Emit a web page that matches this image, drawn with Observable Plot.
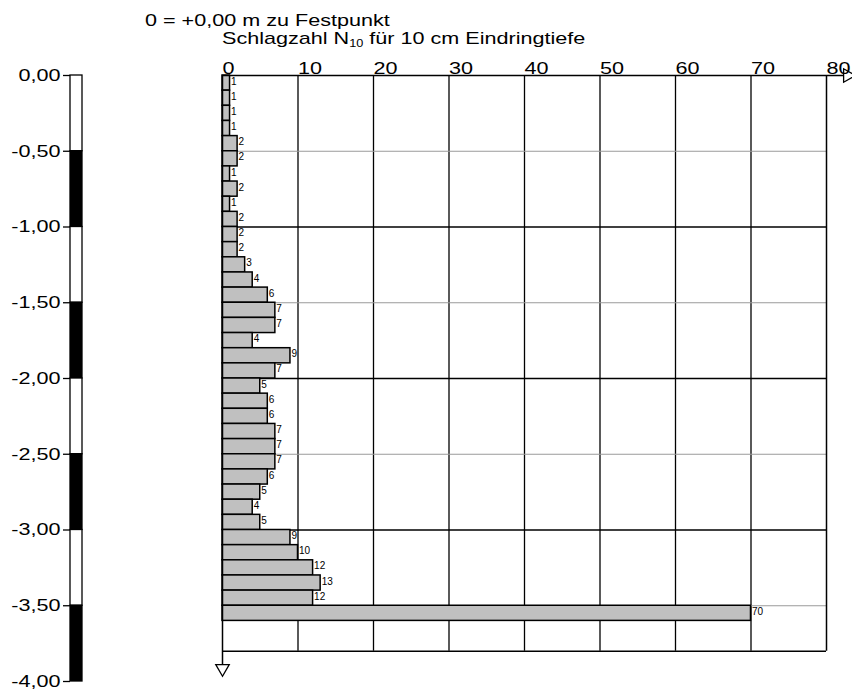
<!DOCTYPE html>
<html>
<head>
<meta charset="utf-8">
<script src="https://cdn.jsdelivr.net/npm/d3@7"></script>
<script src="https://cdn.jsdelivr.net/npm/@observablehq/plot@0.6"></script>
<style>
  html, body { margin: 0; padding: 0; background: #fff; }
  #wrap { position: relative; width: 852px; height: 693px; overflow: hidden; font-family: "Liberation Sans", Arial, sans-serif; color: #000; }
  #wrap > div.plot { position: absolute; left: 0; top: 0; }
  .ttl { position: absolute; font-size: 17px; line-height: 17px; white-space: nowrap; transform: scaleX(1.27); transform-origin: 0 0; }
  .ttl sub { font-size: 10px; vertical-align: -3px; line-height: 0; }
</style>
</head>
<body>
<div id="wrap">
  <div class="ttl" style="left:145px; top:12px;">0 = +0,00 m zu Festpunkt</div>
  <div class="ttl" style="left:222px; top:30px;">Schlagzahl N<sub>10</sub> für 10 cm Eindringtiefe</div>
</div>
<script>
// ---- data ----
// depth intervals (m below reference point), 10 cm steps
const depthFrom = [0.0,0.1,0.2,0.3,0.4,0.5,0.6,0.7,0.8,0.9,1.0,1.1,1.2,1.3,1.4,1.5,1.6,1.7,1.8,1.9,2.0,2.1,2.2,2.3,2.4,2.5,2.6,2.7,2.8,2.9,3.0,3.1,3.2,3.3,3.4,3.5];
const depthTo   = [0.1,0.2,0.3,0.4,0.5,0.6,0.7,0.8,0.9,1.0,1.1,1.2,1.3,1.4,1.5,1.6,1.7,1.8,1.9,2.0,2.1,2.2,2.3,2.4,2.5,2.6,2.7,2.8,2.9,3.0,3.1,3.2,3.3,3.4,3.5,3.6];
// blow counts N10
const blows     = [1,1,1,1,2,2,1,2,1,2,2,2,3,4,6,7,7,4,9,7,5,6,6,7,7,7,6,5,4,5,9,10,12,13,12,70];

const xTicks = [0,10,20,30,40,50,60,70,80];
const gridHalf = [-0.5,-1.5,-2.5,-3.5];
const gridWhole = [-1,-2,-3];
const plotDepth = 3.8;

const depthTicks = [0,-0.5,-1,-1.5,-2,-2.5,-3,-3.5,-4];
const depthTickLabels = ["0,00","-0,50","-1,00","-1,50","-2,00","-2,50","-3,00","-3,50","-4,00"];
const bandTop    = [0,-0.5,-1,-1.5,-2,-2.5,-3,-3.5];
const bandBottom = [-0.5,-1,-1.5,-2,-2.5,-3,-3.5,-4];
const bandFill   = ["white","black","white","black","white","black","white","black"];

const rows = blows.map((n, i) => ({from: depthFrom[i], to: depthTo[i], n}));
const bands = bandTop.map((t, i) => ({top: t, bottom: bandBottom[i], fill: bandFill[i]}));

const FONT = "'Liberation Sans', Arial, sans-serif";
const H = 693, MT = 75, MB = 12;

const main = Plot.plot({
  width: 852, height: H,
  marginTop: MT, marginBottom: MB, marginLeft: 222, marginRight: 26,
  style: {fontFamily: FONT, background: "transparent", color: "black", overflow: "visible"},
  x: {domain: [0, 80], axis: null, label: null},
  y: {domain: [-4, 0], axis: null, label: null},
  marks: [
    Plot.ruleX(xTicks.slice(1, -1), {y1: 0, y2: -plotDepth, stroke: "black", strokeWidth: 1.3}),
    Plot.ruleY(gridHalf, {x1: 0, x2: 80, stroke: "#9a9a9a", strokeWidth: 1.2}),
    Plot.ruleY(gridWhole, {x1: 0, x2: 80, stroke: "black", strokeWidth: 1.3}),
    Plot.rectX(rows, {x1: 0, x2: "n", y1: d => -d.from, y2: d => -d.to, fill: "#c0c0c0", stroke: "black", strokeWidth: 1.5}),
    Plot.text(rows, {x: "n", y: d => -d.from, text: d => String(d.n), textAnchor: "start", lineAnchor: "top", dx: 1, dy: 2, fontSize: 10, fill: "black"}),
    // frame: right, bottom
    Plot.ruleX([80], {y1: 0, y2: -plotDepth, stroke: "black", strokeWidth: 1.5}),
    Plot.ruleY([-plotDepth], {x1: 0, x2: 80, stroke: "black", strokeWidth: 1.5}),
    // axis lines with arrows
    Plot.ruleY([0], {stroke: "black", strokeWidth: 1.5, insetRight: -17}),
    Plot.ruleX([0], {y1: 0, y2: -plotDepth, stroke: "black", strokeWidth: 1.5, insetBottom: -14}),
    Plot.dot([0], {frameAnchor: "top-right", dx: 21, symbol: "triangle", rotate: 90, r: 5, fill: "white", stroke: "black", strokeWidth: 1.3}),
    Plot.dot([0], {frameAnchor: "bottom-left", dy: -13, symbol: "triangle", rotate: 180, r: 5, fill: "white", stroke: "black", strokeWidth: 1.3}),
    Plot.axisX({anchor: "top", ticks: xTicks, tickSize: 0, tickPadding: 2, textAnchor: "start", fontSize: 17, label: null, tickFormat: d => String(d)})
  ]
});

const left = Plot.plot({
  width: 100, height: H,
  marginTop: MT, marginBottom: MB, marginLeft: 70, marginRight: 18,
  style: {fontFamily: FONT, background: "transparent", color: "black", overflow: "visible"},
  x: {domain: [0, 1], axis: null, label: null},
  y: {domain: [-4, 0], axis: null, label: null},
  marks: [
    Plot.rect(bands, {x1: 0, x2: 1, y1: "top", y2: "bottom", fill: "fill", stroke: "black", strokeWidth: 1.3}),
    Plot.axisY({anchor: "left", ticks: depthTicks, tickSize: 7, tickPadding: 3, strokeWidth: 1.3, fontSize: 17, label: null,
      tickFormat: d => depthTickLabels[depthTicks.indexOf(d)]})
  ]
});

const wrap = document.getElementById("wrap");
for (const p of [left, main]) {
  const d = document.createElement("div");
  d.className = "plot";
  d.appendChild(p);
  wrap.appendChild(d);
}

// horizontal stretch of the large text (the reference renders it wide)
function stretch(svg, k) {
  svg.querySelectorAll("text").forEach(t => {
    const fs = parseFloat(getComputedStyle(t).fontSize);
    if (fs < 14) return;
    const tr = t.getAttribute("transform");
    if (tr && tr.includes("translate")) t.setAttribute("transform", tr + ` scale(${k},1)`);
  });
}
stretch(main, 1.27);
stretch(left, 1.27);
</script>
</body>
</html>
